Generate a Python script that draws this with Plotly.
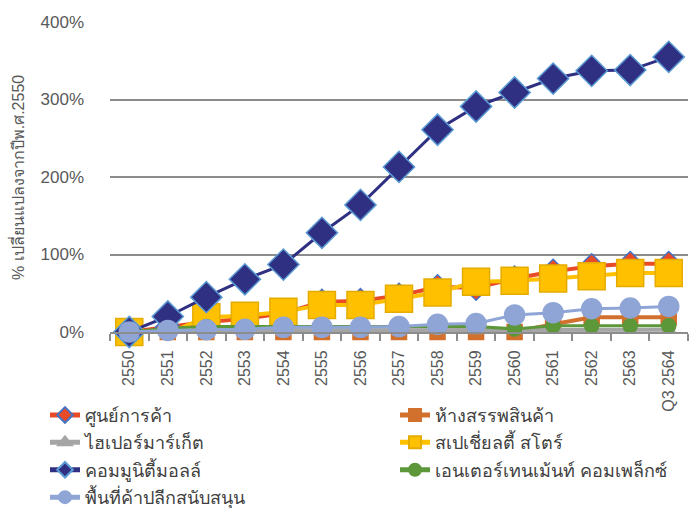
import plotly.graph_objects as go

# Categories (Thai Buddhist-era years, last one is Q3)
years = ["2550", "2551", "2552", "2553", "2554", "2555", "2556", "2557",
         "2558", "2559", "2560", "2561", "2562", "2563", "Q3 2564"]

# % change from 2550, by retail format
shopping_center = [0, 6, 13, 17, 24, 39, 40, 47, 58, 57, 69, 78, 85, 88, 88]
department_store = [0, 0, 0, 0, 0, 0, 0, 0, 0, 0, 0, 10, 19, 19, 19]
hypermarket = [0, 2, 2, 2, 2, 2, 2, 2, 2, 2, 2, 3, 3, 3, 3]
specialty_store = [0, -2, 19, 21, 26, 35, 35, 43, 51, 65, 66, 69, 72, 76, 76]
community_mall = [0, 20, 45, 68, 87, 128, 164, 213, 261, 291, 309, 327, 337, 338, 355]
entertainment = [0, 5, 7, 7, 7, 7, 7, 7, 7, 7, 4, 8, 8, 8, 8]
retail_support = [0, 2, 3, 3.5, 6, 6, 6, 7, 10, 11, 22, 25, 30, 31, 33]

y_title = "% เปลี่ยนแปลงจากปีพ.ศ.2550"

series_names = [
    "ศูนย์การค้า",
    "ห้างสรรพสินค้า",
    "ไฮเปอร์มาร์เก็ต",
    "สเปเชี่ยลตี้ สโตร์",
    "คอมมูนิตี้มอลล์",
    "เอนเตอร์เทนเม้นท์ คอมเพล็กซ์",
    "พื้นที่ค้าปลีกสนับสนุน",
]
series_values = [shopping_center, department_store, hypermarket, specialty_store,
                 community_mall, entertainment, retail_support]

styles = [
    dict(line="#E94B27", fill="#E94B27", edge="#4472C4", symbol="diamond", size=19, width=4),
    dict(line="#D2702D", fill="#D2702D", edge="#D2702D", symbol="square", size=15, width=4),
    dict(line="#A5A5A5", fill="#A5A5A5", edge="#A5A5A5", symbol="triangle-up", size=12, width=4),
    dict(line="#FFC000", fill="#FFC000", edge="#E5AC00", symbol="square", size=27, width=4),
    dict(line="#2F3082", fill="#2F3082", edge="#5B9BD5", symbol="diamond", size=24, width=3),
    dict(line="#5C973A", fill="#5C973A", edge="#5C973A", symbol="circle", size=14, width=3),
    dict(line="#8FA5D6", fill="#8FA5D6", edge="#8FA5D6", symbol="circle", size=20, width=3),
]

fig = go.Figure()
for i, (name, vals, st) in enumerate(zip(series_names, series_values, styles)):
    # two legend columns: even-indexed series on the left, odd on the right
    fig.add_trace(go.Scatter(
        x=years, y=vals, name=name, mode="lines+markers",
        line=dict(color=st["line"], width=st["width"]),
        marker=dict(symbol=st["symbol"], size=st["size"], color=st["fill"],
                    line=dict(color=st["edge"], width=1.5)),
        cliponaxis=False,
        legend="legend" if i % 2 == 0 else "legend2",
        legendgroup=f"g{i}",
    ))

font_family = "Liberation Sans, Arial, sans-serif"
legend_common = dict(
    orientation="v", xref="container", yref="container", yanchor="top",
    xanchor="left", itemsizing="constant", tracegroupgap=1,
    font=dict(size=18, color="#404040"), traceorder="grouped",
    bgcolor="rgba(0,0,0,0)",
)
fig.update_layout(
    width=690, height=508,
    margin=dict(l=110, r=2, t=22, b=176, autoexpand=False),
    paper_bgcolor="white", plot_bgcolor="white",
    font=dict(family=font_family, size=16, color="#595959"),
    showlegend=True,
    legend=dict(legend_common, x=45 / 690, y=0.219),
    legend2=dict(legend_common, x=395 / 690, y=0.219),
    annotations=[dict(
        text=y_title, textangle=-90, showarrow=False,
        xref="paper", yref="paper", x=-0.161, y=0.5,
        xanchor="center", yanchor="middle",
        font=dict(size=16, color="#595959"),
    )],
)
fig.update_xaxes(
    type="category", range=[-0.5, 14.5],
    showgrid=False, showline=True, linecolor="#8C8C8C", linewidth=2,
    ticks="outside", tickson="boundaries", ticklen=7, tickcolor="#8C8C8C", tickwidth=2,
    tickangle=-90, ticklabelstandoff=10, tickfont=dict(size=16, color="#595959"),
)
fig.update_yaxes(
    range=[0, 400], dtick=100, ticksuffix="%",
    showgrid=True, gridcolor="#8C8C8C", gridwidth=2,
    zeroline=False, showline=False,
    ticklabelstandoff=25,
    tickfont=dict(size=17, color="#595959"),
)

fig.write_html("out.html")
